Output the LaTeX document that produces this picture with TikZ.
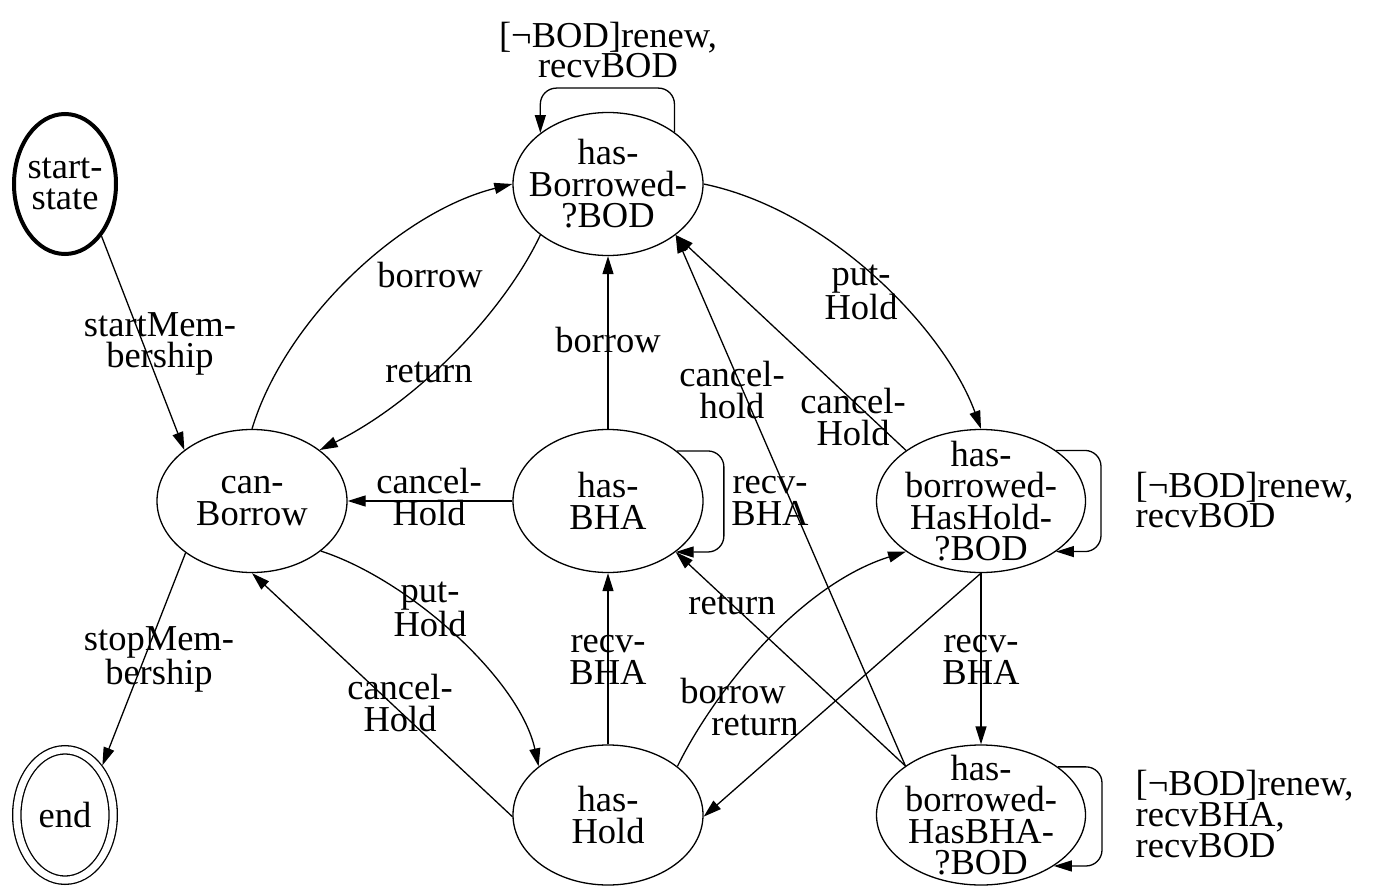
\documentclass[tikz,border=0pt]{standalone}
\usepackage{fontspec}
\setmainfont{Liberation Serif}
\usetikzlibrary{arrows.meta,shapes.geometric}
\newcommand\stfont{\fontsize{36.5}{31.5}\selectfont}
\newcommand\lpfont{\fontsize{36.5}{29.5}\selectfont}
\begin{document}
\begin{tikzpicture}[x=1pt,y=-1pt,line width=1.3pt,
  state/.style={ellipse, draw, inner sep=-30pt, minimum width=190pt, minimum height=143pt, font=\stfont, align=center},
  widestate/.style={state, minimum width=209pt},
  edge/.style={-{Triangle[length=18pt,width=11pt]}},
  elabel/.style={font=\stfont, align=center, inner sep=0pt},
  looplabel/.style={font=\lpfont, inner sep=0pt}]
\useasboundingbox (0,0) rectangle (1378,888);
% states
\node[state, line width=4pt, minimum width=102pt, minimum height=140pt] (st) at (65,184) {start-\\state};
\node[state, double, double distance=7pt, minimum width=96.4pt, minimum height=130.4pt, outer sep=4.8pt] (en) at (65,815) {end};
\node[state] (cb) at (252,501) {can-\\Borrow};
\node[state] (hb) at (608,184) {has-\\Borrowed-\\?BOD};
\node[state] (ha) at (608,501) {has-\\BHA};
\node[state, minimum height=140pt] (hh) at (608,815) {has-\\Hold};
\node[widestate] (bh) at (981,501) {has-\\borrowed-\\HasHold-\\?BOD};
\node[widestate, minimum height=140pt] (bb) at (981,815) {has-\\borrowed-\\HasBHA-\\?BOD};
% edges
\draw[edge] (st.-55) -- (cb.143.5);
\draw[edge] (cb.218) -- (en.53);
\draw[edge] (cb.90) .. controls (285,320) and (400,212) .. (hb.180);
\draw[edge] (hb.217) .. controls (505,310) and (420,400) .. (cb.37);
\draw[edge] (ha.180) -- (cb.0);
\draw[edge] (cb.-36) .. controls (410,580) and (520,680) .. (hh.145);
\draw[edge] (hh.181) -- (cb.-90);
\draw[edge] (ha.90) -- (hb.-90);
\draw[edge, rounded corners=16pt] (ha.36) -- ++(47,0) |- (ha.-37);
\draw[edge] (hh.90) -- (ha.-90);
\draw[edge] (hb.0) .. controls (830,210) and (945,330) .. (bh.90);
\draw[edge] (bh.146) -- (hb.-37);
\draw[edge] (bb.147) -- (hb.-37);
\draw[edge] (bb.147) -- (ha.-37);
\draw[edge] (hh.35) .. controls (715,690) and (800,585) .. (bh.214);
\draw[edge] (bh.-90) -- (hh.-1);
\draw[edge] (bh.-90) -- (bb.90);
\draw[edge, rounded corners=16pt] (bh.34) -- ++(45,0) |- (bh.-34);
\draw[edge, rounded corners=16pt] (bb.32) -- ++(44,0) |- (bb.-35);
\draw[edge, rounded corners=16pt] (hb.38) -- ++(0,-44) -| (hb.143);
% labels
\node[elabel] (l1) at (160,344) {startMem-\\bership};
\node[elabel] (l2) at (159,659) {stopMem-\\bership};
\node[elabel] (l3) at (430,275) {borrow};
\node[elabel] (l4) at (429,372) {return};
\node[elabel] (l5) at (429,497) {cancel-\\Hold};
\node[elabel] (l6) at (430,609) {put-\\Hold};
\node[elabel] (l7) at (400,703) {cancel-\\Hold};
\node[elabel] (l8) at (608,340) {borrow};
\node[elabel] (l9) at (770,501) {recv-\\BHA};
\node[elabel] (l10) at (608,660) {recv-\\BHA};
\node[elabel] (l11) at (861,292) {put-\\Hold};
\node[elabel] (l12) at (853,417) {cancel-\\Hold};
\node[elabel] (l13) at (732,390) {cancel-\\hold};
\node[elabel] (l14) at (732,604) {return};
\node[elabel] (l15) at (733,691) {borrow};
\node[elabel] (l16) at (755,725) {return};
\node[elabel] (l17) at (981,660) {recv-\\BHA};
\node[looplabel, align=center] (l18) at (608,50) {[¬BOD]renew,\\recvBOD};
\node[looplabel, align=left, anchor=west] (l19) at (1135,500) {[¬BOD]renew,\\recvBOD};
\node[looplabel, align=left, anchor=west] (l20) at (1135,814) {[¬BOD]renew,\\recvBHA,\\recvBOD};
\end{tikzpicture}
\end{document}
